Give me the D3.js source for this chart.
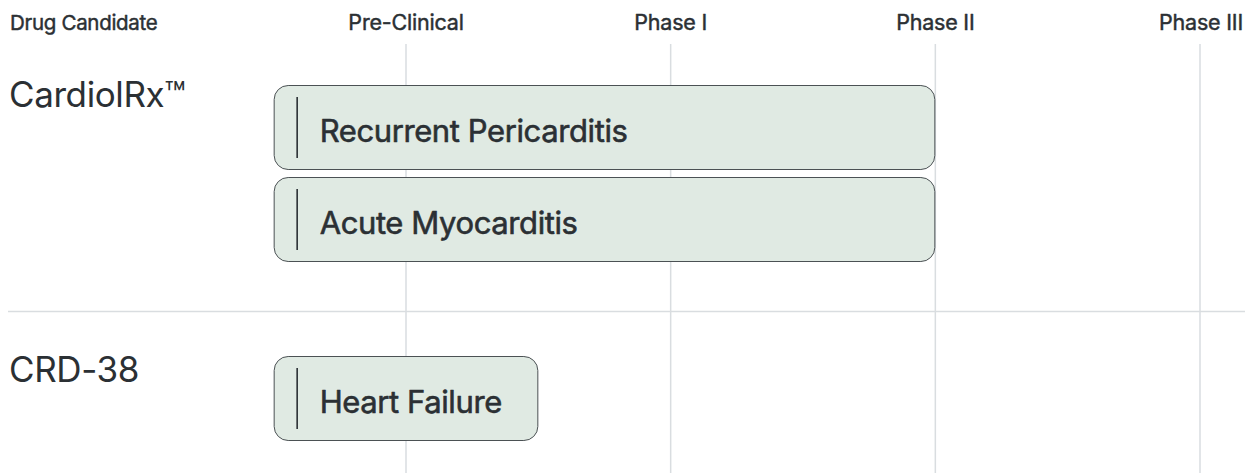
<!DOCTYPE html>
<html>
<head>
<meta charset="utf-8">
<script src="https://cdn.jsdelivr.net/npm/d3@7"></script>
<style>
  body { margin: 0; background: #fff; }
  svg { display: block; font-family: Inter, "Noto Sans", sans-serif; }
</style>
</head>
<body>
<svg id="pipeline" width="1245" height="473"></svg>
<script>
// phases along the top, index = position on the x scale
var phases = ["Pre-Clinical", "Phase I", "Phase II", "Phase III"];
var candidates = ["CardiolRx\u2122", "CRD-38"];
// each program: indication, start / end in phase units
var programs = ["Recurrent Pericarditis", "Acute Myocarditis", "Heart Failure"];
var programCandidate = ["CardiolRx\u2122", "CardiolRx\u2122", "CRD-38"];
var programStart = [-0.5, -0.5, -0.5];
var programEnd = [2, 2, 0.5];

var svg = d3.select("#pipeline");
var ink = "#2b3034";

var x = d3.scaleLinear().domain([0, 3]).range([406, 1200]);

// row tops for the bars and candidate name baselines
var rowTop = {"Recurrent Pericarditis": 85, "Acute Myocarditis": 177, "Heart Failure": 356};
var candY = {"CardiolRx\u2122": 107, "CRD-38": 382};
var barH = 85;

// vertical phase lines
svg.selectAll("line.phase")
   .data(phases)
   .enter()
   .append("line")
   .attr("class", "phase")
   .attr("x1", function(d, i) { return x(i); })
   .attr("x2", function(d, i) { return x(i); })
   .attr("y1", 44)
   .attr("y2", 473)
   .style("stroke", "#d9dde0")
   .style("stroke-width", 1.5);

// divider between candidates
svg.append("line")
   .attr("x1", 8).attr("x2", 1245)
   .attr("y1", 311.5).attr("y2", 311.5)
   .style("stroke", "#d9dde0")
   .style("stroke-width", 1.5);

// medium-ish weight: regular glyphs with a hairline stroke
function medium(sel, w) {
  sel.style("fill", ink)
     .style("stroke", ink)
     .style("stroke-width", w)
     .style("stroke-linejoin", "round");
}

// header
svg.append("text")
   .attr("x", 10).attr("y", 30)
   .style("font-size", "20.5px")
   .style("letter-spacing", "-0.3px")
   .text("Drug Candidate")
   .call(medium, 0.45);

svg.selectAll("text.phase")
   .data(phases)
   .enter()
   .append("text")
   .attr("class", "phase")
   .attr("x", function(d, i) { return i === phases.length - 1 ? 1243 : x(i); })
   .attr("y", 30)
   .attr("text-anchor", function(d, i) { return i === phases.length - 1 ? "end" : "middle"; })
   .style("font-size", "21.5px")
   .style("letter-spacing", "-0.2px")
   .text(function(d) { return d; })
   .call(medium, 0.45);

// candidate names
svg.selectAll("text.cand")
   .data(candidates)
   .enter()
   .append("text")
   .attr("class", "cand")
   .attr("x", 9)
   .attr("y", function(d) { return candY[d]; })
   .style("font-size", "35px")
   .style("fill", ink)
   .style("letter-spacing", "-0.4px")
   .text(function(d) { return d; });

// program bars
var bars = svg.selectAll("g.bar")
   .data(programs)
   .enter()
   .append("g")
   .attr("class", "bar")
   .attr("transform", function(d) { return "translate(0," + rowTop[d] + ")"; });

bars.append("rect")
   .attr("x", function(d, i) { return x(programStart[i]) + 0.5; })
   .attr("width", function(d, i) { return x(programEnd[i]) - x(programStart[i]) - 1; })
   .attr("y", 0.5)
   .attr("height", barH - 1)
   .attr("rx", 14)
   .style("fill", "#e0eae3")
   .style("stroke", "#4b5154")
   .style("stroke-width", 1);

bars.append("line")
   .attr("x1", function(d, i) { return x(programStart[i]) + 23.5; })
   .attr("x2", function(d, i) { return x(programStart[i]) + 23.5; })
   .attr("y1", 12)
   .attr("y2", 73)
   .style("stroke", ink)
   .style("stroke-width", 1.6);

bars.append("text")
   .attr("x", function(d, i) { return x(programStart[i]) + 46; })
   .attr("y", 57)
   .style("font-size", "31px")
   .style("letter-spacing", "-0.4px")
   .text(function(d) { return d; })
   .call(medium, 0.6);
</script>
</body>
</html>
